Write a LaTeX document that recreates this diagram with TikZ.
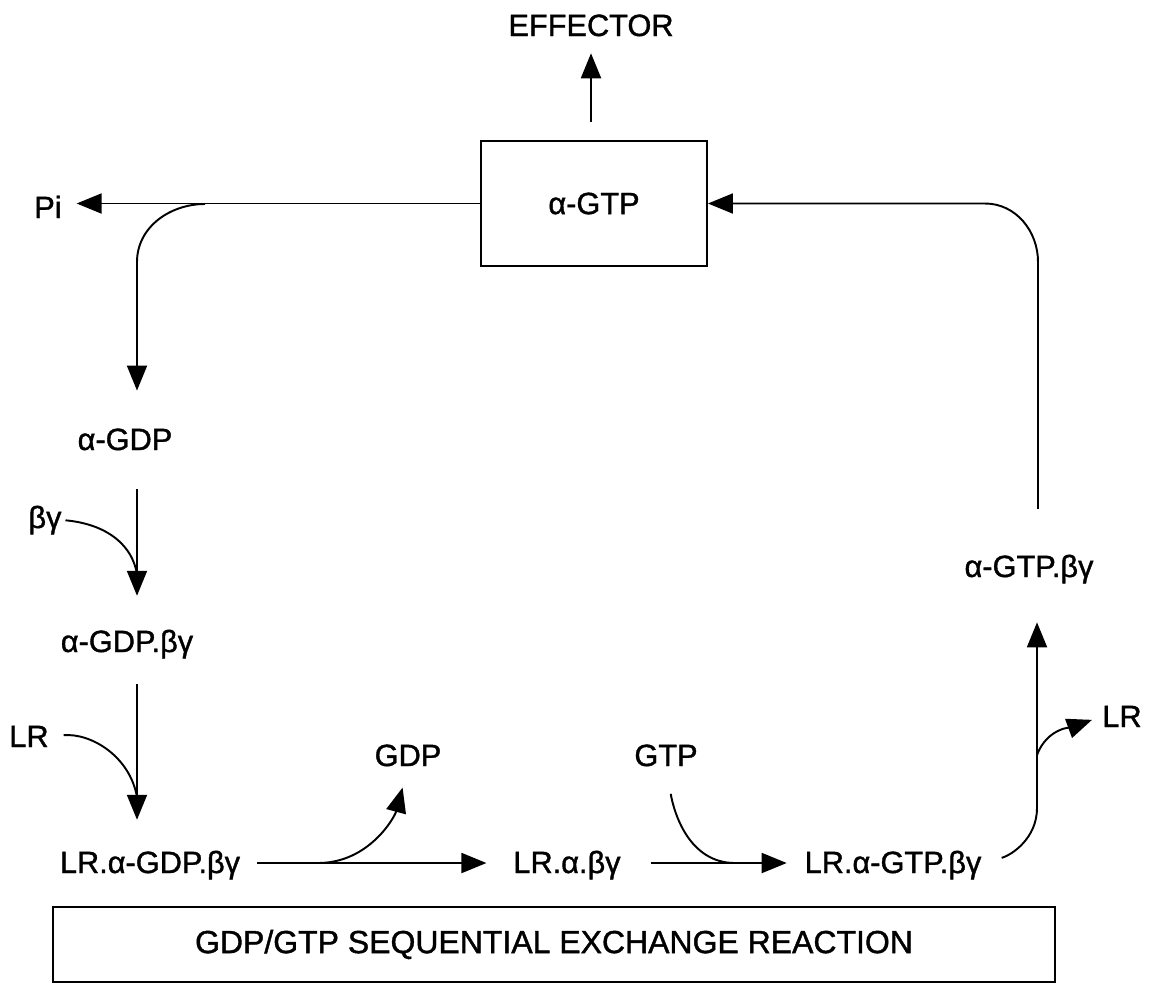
\documentclass[tikz,border=0pt]{standalone}
\usepackage{fontspec}
\setmainfont{Liberation Sans}[FakeBold=1.2]
\usepackage{tikz}
\usetikzlibrary{arrows.meta}
\usetikzlibrary{calc}
\usetikzlibrary{positioning}

\begin{document}
\begin{tikzpicture}[x=0.02cm,y=-0.02cm,line width=1.1pt,
		every node/.style={font=\fontsize{17.5}{20}\selectfont},
		species/.style={inner sep=0pt,anchor=base},
		stage/.style={draw,rectangle,line width=1.1pt,inner sep=0pt},
		arr/.style={-{Triangle[length=0.5cm,width=0.4cm]}}]
		\useasboundingbox (0,0) rectangle (1151,984);

		\node [species] (effector) at (591,36) {EFFECTOR};
		\node [stage,minimum width=4.52cm,minimum height=2.5cm] (gtp) at (594,203.5) {α-GTP};
		\node [species] (pi) at (48,218) {Pi};
		\node [species] (gdp) at (125,450) {α-GDP};
		\node [species] (bg) at (45,528) {βγ};
		\node [species] (gdpbg) at (127,652) {α-GDP.βγ};
		\node [species] (lrin) at (29,747) {LR};
		\node [species] (lrgdp) at (150,873) {LR.α-GDP.βγ};
		\node [species] (gdpout) at (408,766) {GDP};
		\node [species] (lrab) at (567,873) {LR.α.βγ};
		\node [species] (gtpin) at (666,766) {GTP};
		\node [species] (lrgtp) at (893,873) {LR.α-GTP.βγ};
		\node [species] (lrout) at (1122,727) {LR};
		\node [species] (gtpbg) at (1029,577) {α-GTP.βγ};
		\node [stage,minimum width=20.04cm,minimum height=1.5cm,font=\fontsize{18.2}{20}\selectfont] (exchange) at (554,944.5) {GDP/GTP SEQUENTIAL EXCHANGE REACTION};

		\coordinate (split) at (205,204);
		\coordinate (col) at (137,262);
		\coordinate (j1) at (137,574);
		\coordinate (j2) at (137,797);
		\coordinate (b1) at (318,863);
		\coordinate (b2) at (735,863);
		\coordinate (r1) at (1037,808);
		\coordinate (r2) at (1037,755);
		\coordinate (r3) at (1038,262);
		\coordinate (r4) at (985,203.5);

		\draw [arr,shorten <=0.36cm,shorten >=0.32cm] (gtp.north -| effector) -- (effector.south);
		\draw [arr,shorten >=0.28cm] (gtp.west) -- (gtp.west -| pi.east);
		\draw [arr,shorten >=0.74cm] (split) to [out=180,in=90] (col) -- (col |- gdp.north);
		\draw [arr,shorten <=0.76cm,shorten >=0.66cm] (col |- gdp.south) -- (col |- gdpbg.north);
		\draw [shorten <=0.06cm] (bg.east) to [out=-5,in=100] (j1);
		\draw [arr,shorten <=0.5cm,shorten >=0.6cm] (col |- gdpbg.south) -- (col |- lrgdp.north);
		\draw [shorten <=0.28cm] (lrin.east) to [out=5,in=100] (j2);

		\draw [arr,shorten <=0.32cm,shorten >=0.52cm] ([yshift=0.2cm]lrgdp.base east) -- ([yshift=0.2cm]lrab.base west);
		\draw [arr,shorten >=0.42cm] (b1) to [out=0,in=-105] (gdpout.south);
		\draw [shorten <=0.54cm] (gtpin.south) to [out=-80,in=180] (b2);
		\draw [arr,shorten <=0.58cm,shorten >=0.34cm] ([yshift=0.2cm]lrab.base east) -- ([yshift=0.2cm]lrgtp.base west);

		\draw [arr,shorten <=0.4cm,shorten >=0.76cm] ([yshift=0.2cm]lrgtp.base east) to [out=15,in=-90] (r1) -- (r1 |- gtpbg.south);
		\draw [arr,shorten >=0.2cm] (r2) to [out=70,in=200] (lrout.west);
		\draw [arr,shorten <=0.9cm] (r3 |- gtpbg.north) -- (r3) to [out=90,in=0] (r4) -- (gtp.east);
\end{tikzpicture}
\end{document}
